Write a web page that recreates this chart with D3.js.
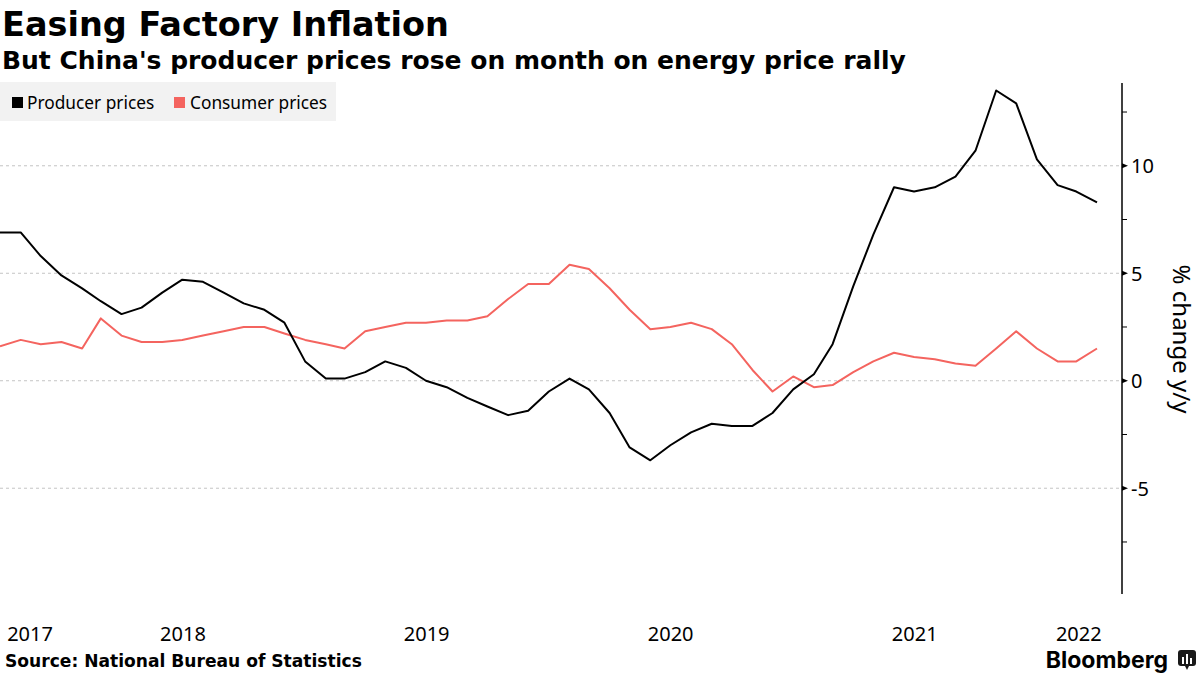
<!DOCTYPE html>
<html>
<head>
<meta charset="utf-8">
<script src="https://cdn.jsdelivr.net/npm/d3@7"></script>
<style>
  html, body { margin: 0; padding: 0; background: #fff; }
  svg { display: block; }
</style>
</head>
<body>
<svg id="chart" width="1200" height="675"></svg>
<script>
// ---- Data ----
const months = [
  "2017-09","2017-10","2017-11","2017-12",
  "2018-01","2018-02","2018-03","2018-04","2018-05","2018-06","2018-07","2018-08","2018-09","2018-10","2018-11","2018-12",
  "2019-01","2019-02","2019-03","2019-04","2019-05","2019-06","2019-07","2019-08","2019-09","2019-10","2019-11","2019-12",
  "2020-01","2020-02","2020-03","2020-04","2020-05","2020-06","2020-07","2020-08","2020-09","2020-10","2020-11","2020-12",
  "2021-01","2021-02","2021-03","2021-04","2021-05","2021-06","2021-07","2021-08","2021-09","2021-10","2021-11","2021-12",
  "2022-01","2022-02","2022-03"
];
const producerPrices = [
  6.9, 6.9, 5.8, 4.9,
  4.3, 3.7, 3.1, 3.4, 4.1, 4.7, 4.6, 4.1, 3.6, 3.3, 2.7, 0.9,
  0.1, 0.1, 0.4, 0.9, 0.6, 0.0, -0.3, -0.8, -1.2, -1.6, -1.4, -0.5,
  0.1, -0.4, -1.5, -3.1, -3.7, -3.0, -2.4, -2.0, -2.1, -2.1, -1.5, -0.4,
  0.3, 1.7, 4.4, 6.8, 9.0, 8.8, 9.0, 9.5, 10.7, 13.5, 12.9, 10.3,
  9.1, 8.8, 8.3
];
const consumerPrices = [
  1.6, 1.9, 1.7, 1.8,
  1.5, 2.9, 2.1, 1.8, 1.8, 1.9, 2.1, 2.3, 2.5, 2.5, 2.2, 1.9,
  1.7, 1.5, 2.3, 2.5, 2.7, 2.7, 2.8, 2.8, 3.0, 3.8, 4.5, 4.5,
  5.4, 5.2, 4.3, 3.3, 2.4, 2.5, 2.7, 2.4, 1.7, 0.5, -0.5, 0.2,
  -0.3, -0.2, 0.4, 0.9, 1.3, 1.1, 1.0, 0.8, 0.7, 1.5, 2.3, 1.5,
  0.9, 0.9, 1.5
];
const seriesNames = ["Producer prices", "Consumer prices"];
const seriesColors = ["#000000", "#f4645f"];
const yMajorTicks = [-5, 0, 5, 10];
const yMinorTicks = [-7.5, -2.5, 2.5, 7.5, 12.5];
const yearLabels = ["2017", "2018", "2019", "2020", "2021", "2022"];

// ---- Layout ----
const svg = d3.select("#chart");
const plotLeft = 0, plotRight = 1097, axisX = 1122;
const plotTop = 83, plotBottom = 594;

// data points sit at month end
const monthEnd = s => { const [yy, mm] = s.split("-").map(Number); return new Date(Date.UTC(yy, mm, 0)); };
const dates = months.map(monthEnd);

const x = d3.scaleUtc()
  .domain([dates[0], dates[dates.length - 1]])
  .range([plotLeft, plotRight]);
const y = d3.scaleLinear()
  .domain([-9.92, 13.85])
  .range([plotBottom, plotTop]);

svg.append("rect").attr("width", 1200).attr("height", 675).attr("fill", "#fff");

// Title / subtitle
svg.append("text").attr("x", 2).attr("y", 36)
  .attr("font-family", "DejaVu Sans").attr("font-weight", "bold").attr("font-size", 33.5)
  .attr("fill", "#000").text("Easing Factory Inflation");
svg.append("text").attr("x", 2).attr("y", 69)
  .attr("font-family", "DejaVu Sans").attr("font-weight", "bold").attr("font-size", 25)
  .attr("fill", "#000").text("But China's producer prices rose on month on energy price rally");

// Legend
const legend = svg.append("g");
legend.append("rect").attr("x", 0).attr("y", 82).attr("width", 336).attr("height", 39).attr("fill", "#f2f2f2");
const legendPos = [{sq: 12, tx: 27}, {sq: 174, tx: 190}];
seriesNames.forEach((name, i) => {
  legend.append("rect").attr("x", legendPos[i].sq).attr("y", 97).attr("width", 11).attr("height", 11)
    .attr("fill", seriesColors[i]);
  legend.append("text").attr("x", legendPos[i].tx).attr("y", 108.5)
    .attr("font-family", "Noto Sans").attr("font-size", 17.3).attr("fill", "#000").text(name);
});

// Gridlines
svg.append("g").selectAll("line").data(yMajorTicks).join("line")
  .attr("x1", plotLeft).attr("x2", axisX)
  .attr("y1", d => y(d)).attr("y2", d => y(d))
  .attr("stroke", "#c4c4c4").attr("stroke-width", 1).attr("stroke-dasharray", "3,3");

// Right axis
const axisG = svg.append("g");
axisG.append("line").attr("x1", axisX).attr("x2", axisX).attr("y1", plotTop).attr("y2", plotBottom)
  .attr("stroke", "#000").attr("stroke-width", 1.5);
axisG.selectAll("path.major").data(yMajorTicks).join("path").attr("class", "major")
  .attr("d", d => `M${axisX},${y(d) - 2.5}L${axisX + 6},${y(d)}L${axisX},${y(d) + 2.5}Z`)
  .attr("fill", "#000");
axisG.selectAll("line.minor").data(yMinorTicks).join("line").attr("class", "minor")
  .attr("x1", axisX).attr("x2", axisX + 5).attr("y1", d => y(d)).attr("y2", d => y(d))
  .attr("stroke", "#000").attr("stroke-width", 1);
axisG.selectAll("text.tl").data(yMajorTicks).join("text").attr("class", "tl")
  .attr("x", axisX + 9).attr("y", d => y(d) + 7.5)
  .attr("font-family", "Noto Sans").attr("font-size", 20).attr("fill", "#000")
  .text(d => d);
svg.append("text")
  .attr("transform", `translate(1173,339) rotate(90)`)
  .attr("text-anchor", "middle")
  .attr("font-family", "Noto Sans").attr("font-size", 24).attr("fill", "#000")
  .text("% change y/y");

// Year labels centred on visible part of each year
const yearG = svg.append("g");
yearLabels.forEach(lbl => {
  const yr = +lbl;
  const a = Math.max(x(new Date(Date.UTC(yr, 0, 1))), plotLeft);
  const b = Math.min(x(new Date(Date.UTC(yr + 1, 0, 1))), axisX);
  yearG.append("text").attr("x", (a + b) / 2 - 1).attr("y", 641)
    .attr("text-anchor", "middle")
    .attr("font-family", "Noto Sans").attr("font-size", 20).attr("fill", "#000").text(lbl);
});

// Lines
const line = d3.line().x((d, i) => x(dates[i])).y(d => y(d));
svg.append("path").datum(consumerPrices).attr("d", line)
  .attr("fill", "none").attr("stroke", seriesColors[1]).attr("stroke-width", 2).attr("stroke-linejoin", "round");
svg.append("path").datum(producerPrices).attr("d", line)
  .attr("fill", "none").attr("stroke", seriesColors[0]).attr("stroke-width", 2).attr("stroke-linejoin", "round");

// Footer
svg.append("text").attr("x", 5).attr("y", 667)
  .attr("font-family", "DejaVu Sans").attr("font-weight", "bold").attr("font-size", 17.1)
  .attr("fill", "#000").text("Source: National Bureau of Statistics");
svg.append("text").attr("x", 1168).attr("y", 668).attr("text-anchor", "end")
  .attr("font-family", "Inter").attr("font-weight", "bold").attr("font-size", 23)
  .attr("fill", "#000").text("Bloomberg");
const logo = svg.append("g").attr("transform", "translate(1178,650)");
logo.append("rect").attr("x", 0).attr("y", 0).attr("width", 18).attr("height", 16).attr("rx", 3).attr("fill", "#1a1a1a");
logo.append("path").attr("d", "M7,16L9,20L11,16Z").attr("fill", "#1a1a1a");
[[4, 7, 7], [8, 4, 10], [12, 8, 6]].forEach(([bx, by, bh]) => {
  logo.append("rect").attr("x", bx).attr("y", by).attr("width", 2).attr("height", bh).attr("fill", "#fff");
});
</script>
</body>
</html>
